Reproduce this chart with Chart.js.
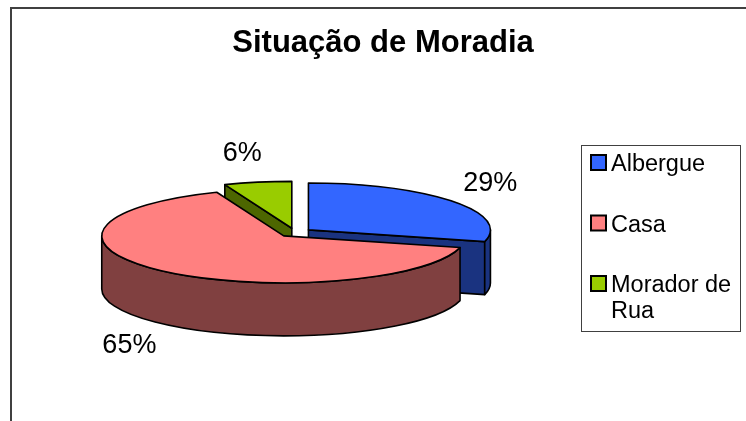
<!DOCTYPE html>
<html>
<head>
<meta charset="utf-8">
<script src="https://cdn.jsdelivr.net/npm/chart.js@4.4.0/dist/chart.umd.min.js"></script>
<style>
html, body { margin: 0; padding: 0; background: #fff; }
#wrap { width: 746px; height: 421px; }
</style>
</head>
<body>
<div id="wrap"><canvas id="myChart"></canvas></div>
<script>
var labels = ['Albergue', 'Casa', 'Morador de Rua'];
var values = [29, 65, 6];
var topColors = ['#3366FF', '#FF8080', '#99CC00'];
var sideColors = ['#1A3380', '#804040', '#4D6600'];

var FONT = "'Liberation Sans', Arial, Helvetica, sans-serif";
var TILT = 0.258;  // how flat the pie looks
var DEPTH = 53;    // thickness of the pie

// word wrap for the legend text
function wrap(ctx, text, maxW) {
    var words = text.split(' ');
    var lines = [];
    var cur = '';
    words.forEach(function (w) {
        var test = cur ? cur + ' ' + w : w;
        if (cur && ctx.measureText(test).width > maxW) {
            lines.push(cur);
            cur = w;
        } else {
            cur = test;
        }
    });
    if (cur) lines.push(cur);
    return lines;
}

// framed legend on the right, added as a layout box
function makeLegendBox(chart) {
    return {
        position: 'right',
        weight: 10,
        fullSize: false,
        options: { display: true, stackWeight: 1 },
        isHorizontal: function () { return false; },
        getPadding: function () { return {top: 0, left: 0, right: 0, bottom: 0}; },
        update: function (maxWidth, maxHeight) {
            this.width = 176;
            this.height = maxHeight;
        },
        draw: function () {
            var ctx = chart.ctx;
            var midY = (this.top + this.bottom) / 2;
            var fx = this.left + 11.5;
            var fy = Math.round(midY - 88) + 0.5;
            ctx.save();
            ctx.strokeStyle = '#404040';
            ctx.lineWidth = 1;
            ctx.strokeRect(fx, fy, 159, 186);
            ctx.font = '23.5px ' + FONT;
            ctx.textAlign = 'left';
            ctx.textBaseline = 'alphabetic';
            var tx = fx + 29.5;
            var y = fy + 25.5;
            chart.data.labels.forEach(function (lab, i) {
                var lines = wrap(ctx, lab, 124);
                ctx.fillStyle = topColors[i];
                ctx.fillRect(tx - 20, y - 16, 15, 15);
                ctx.lineWidth = 2;
                ctx.strokeStyle = '#000';
                ctx.strokeRect(tx - 20, y - 16, 15, 15);
                ctx.fillStyle = '#000';
                lines.forEach(function (ln, k) {
                    ctx.fillText(ln, tx, y + k * 25.5);
                });
                y += 60.5;
            });
            ctx.restore();
        }
    };
}

// draws the pie as a 3d exploded pie from the arc elements
var pie3d = {
    id: 'pie3d',
    beforeInit: function (chart) {
        Chart.layouts.addBox(chart, makeLegendBox(chart));
    },
    beforeDraw: function (chart) {
        var ctx = chart.ctx;
        ctx.save();
        ctx.strokeStyle = '#404040';
        ctx.lineWidth = 2;
        ctx.strokeRect(11, 8, 1000, 1000);
        ctx.restore();
    },
    beforeDatasetsDraw: function (chart) {
        var ctx = chart.ctx;
        var meta = chart.getDatasetMeta(0);
        var total = values.reduce(function (a, b) { return a + b; }, 0);
        var pieces = meta.data.map(function (arc, i) {
            var s = arc.startAngle, e = arc.endAngle, m = (s + e) / 2;
            var off = arc.options.offset || 0;
            return {
                i: i, s: s, e: e, m: m, R: arc.outerRadius,
                x0: arc.x, y0: arc.y,
                cx: arc.x + off * Math.cos(m),
                cy: arc.y + off * TILT * Math.sin(m)
            };
        });
        function pt(p, a, dz) {
            return [p.cx + p.R * Math.cos(a), p.cy + p.R * TILT * Math.sin(a) + (dz || 0)];
        }
        ctx.save();
        ctx.lineJoin = 'round';
        ctx.lineWidth = 1.6;
        ctx.strokeStyle = '#000';

        // cut faces
        pieces.forEach(function (p) {
            [[p.s, Math.cos(p.s) < -1e-6], [p.e, Math.cos(p.e) > 1e-6]].forEach(function (f) {
                if (!f[1]) return;
                var a = pt(p, f[0]), b = pt(p, f[0], DEPTH);
                ctx.beginPath();
                ctx.moveTo(p.cx, p.cy);
                ctx.lineTo(a[0], a[1]);
                ctx.lineTo(b[0], b[1]);
                ctx.lineTo(p.cx, p.cy + DEPTH);
                ctx.closePath();
                ctx.fillStyle = sideColors[p.i];
                ctx.fill();
                ctx.stroke();
            });
        });

        // outer walls (front half only)
        pieces.forEach(function (p) {
            [[0, Math.PI], [2 * Math.PI, 3 * Math.PI]].forEach(function (rng) {
                var a1 = Math.max(p.s, rng[0]), a2 = Math.min(p.e, rng[1]);
                if (a2 <= a1) return;
                var rx = p.R, ry = p.R * TILT;
                ctx.beginPath();
                ctx.ellipse(p.cx, p.cy, rx, ry, 0, a1, a2);
                ctx.ellipse(p.cx, p.cy + DEPTH, rx, ry, 0, a2, a1, true);
                ctx.closePath();
                ctx.fillStyle = sideColors[p.i];
                ctx.fill();
                ctx.stroke();
            });
        });

        // top faces
        pieces.forEach(function (p) {
            ctx.beginPath();
            ctx.moveTo(p.cx, p.cy);
            ctx.ellipse(p.cx, p.cy, p.R, p.R * TILT, 0, p.s, p.e);
            ctx.closePath();
            ctx.fillStyle = topColors[p.i];
            ctx.fill();
            ctx.stroke();
        });

        // percent labels outside the slices, nudged outward a bit by their width
        ctx.font = '27px ' + FONT;
        ctx.fillStyle = '#000';
        ctx.textAlign = 'center';
        ctx.textBaseline = 'middle';
        pieces.forEach(function (p) {
            var txt = Math.round(values[p.i] / total * 100) + '%';
            var w = ctx.measureText(txt).width;
            var sn = Math.sin(p.m), cs = Math.cos(p.m);
            var lx = p.x0 + 230 * cs + (cs > 0 ? w / 4 : -w / 4);
            var ly = p.y0 + 80 * sn + (sn > 0 ? DEPTH : 0);
            ctx.fillText(txt, lx, ly);
        });
        ctx.restore();
        return false;
    }
};

var ctx = document.getElementById('myChart').getContext('2d');

var myChart = new Chart(ctx, {
    type: 'pie',
    data: {
        labels: labels,
        datasets: [{
            data: values,
            backgroundColor: topColors,
            borderWidth: 0,
            offset: 17
        }]
    },
    options: {
        responsive: true,
        maintainAspectRatio: false,
        animation: false,
        devicePixelRatio: 1,
        radius: 182,
        layout: {
            padding: {left: 20, right: 0, top: 0, bottom: 18}
        },
        plugins: {
            legend: { display: false },
            tooltip: { enabled: false },
            title: {
                display: true,
                text: 'Situação de Moradia',
                color: '#000',
                font: { family: FONT, size: 31, weight: 'bold' },
                padding: { top: 25, bottom: 0 }
            }
        }
    },
    plugins: [pie3d]
});
</script>
</body>
</html>
